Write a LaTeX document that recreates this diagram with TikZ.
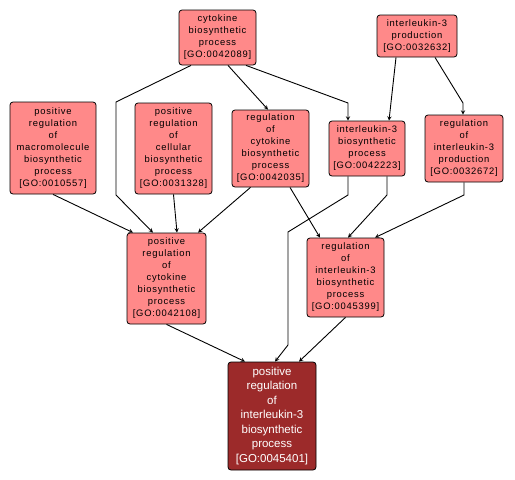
\documentclass[tikz,border=0pt]{standalone}
\usepackage{fontspec}
\setmainfont{Liberation Sans}
\newfontfamily\gofont[LetterSpace=8]{Liberation Sans}
\usepackage{xcolor}
\usetikzlibrary{positioning}
\definecolor{termfill}{RGB}{255,137,137}
\definecolor{queryfill}{RGB}{156,42,42}
\tikzset{
->, % directed edges
>=stealth, % bold arrow heads
term/.style={draw, rounded corners=3pt, fill=termfill, align=center, inner sep=1pt,
  line width=0.8pt, font=\gofont\fontsize{9.4}{12}\selectfont}, % every GO term
query/.style={term, fill=queryfill, text=white,
  font=\fontsize{11.5}{14.5}\selectfont}, % the term asked about
}

\begin{document}
\begin{tikzpicture}[x=1pt, y=-1pt, line width=0.9pt]
        \useasboundingbox (0,0) rectangle (515,480);
        \node[term, minimum width=77, minimum height=55] (a) at (217.5,37.5) {cytokine\\biosynthetic\\process\\{[GO:0042089]}};
        \node[term, minimum width=80, minimum height=42] (b) at (417,36) {interleukin-3\\production\\{[GO:0032632]}};
        \node[term, minimum width=86, minimum height=92] (c) at (53,148) {positive\\regulation\\of\\macromolecule\\biosynthetic\\process\\{[GO:0010557]}};
        \node[term, minimum width=77, minimum height=91] (d) at (173.5,148.5) {positive\\regulation\\of\\cellular\\biosynthetic\\process\\{[GO:0031328]}};
        \node[term, minimum width=77, minimum height=77] (e) at (270.5,148.5) {regulation\\of\\cytokine\\biosynthetic\\process\\{[GO:0042035]}};
        \node[term, minimum width=76, minimum height=55] (f) at (367,148.5) {interleukin-3\\biosynthetic\\process\\{[GO:0042223]}};
        \node[term, minimum width=78, minimum height=67] (g) at (464,148.5) {regulation\\of\\interleukin-3\\production\\{[GO:0032672]}};
        \node[term, minimum width=79, minimum height=91] (h) at (166.5,278.5) {positive\\regulation\\of\\cytokine\\biosynthetic\\process\\{[GO:0042108]}};
        \node[term, minimum width=77, minimum height=79] (i) at (345.5,277.5) {regulation\\of\\interleukin-3\\biosynthetic\\process\\{[GO:0045399]}};
        \node[query, minimum width=88, minimum height=108] (j) at (272,416) {positive\\regulation\\of\\interleukin-3\\biosynthetic\\process\\{[GO:0045401]}};

        \draw ([xshift=-26.5]a.south) -- (116,102) -- (116,195) -- ([xshift=-13.5]h.north);
        \draw ([xshift=10.5]a.south) -- ([xshift=-2.5]e.north);
        \draw ([xshift=28.5]a.south) -- (348,103) -- ([xshift=-19]f.north);
        \draw ([xshift=-21]b.south) -- ([xshift=22]f.north);
        \draw ([xshift=18]b.south) -- (463,103) -- ([xshift=-1]g.north);
        \draw (c.south) -- ([xshift=-33.5]h.north);
        \draw (d.south) -- ([xshift=10.5]h.north);
        \draw ([xshift=-20]e.south) -- ([xshift=31.5]h.north);
        \draw ([xshift=19.5]e.south) -- ([xshift=-25.5]i.north);
        \draw ([xshift=20]f.south) -- (387,195) -- ([xshift=2.5]i.north);
        \draw (g.south) -- (464,195) -- ([xshift=29.5]i.north);
        \draw ([xshift=-19]f.south) -- (348,195) -- (288,232) -- (288,345) -- ([xshift=3]j.north);
        \draw (h.south) -- ([xshift=-27]j.north);
        \draw (i.south) -- ([xshift=27]j.north);
    \end{tikzpicture}
\end{document}
